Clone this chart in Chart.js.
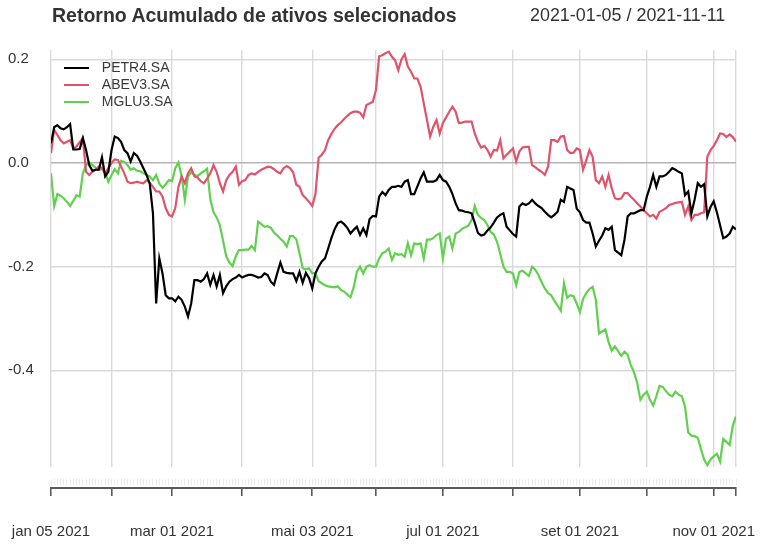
<!DOCTYPE html>
<html>
<head>
<meta charset="utf-8">
<script src="https://cdn.jsdelivr.net/npm/chart.js@4/dist/chart.umd.min.js"></script>
<style>
  html, body { margin: 0; padding: 0; background: #ffffff; }
  #wrap { position: relative; width: 768px; height: 554px; overflow: hidden; }
  #title { position: absolute; left: 52px; top: 6px; font: bold 19.5px "Liberation Sans", Arial, sans-serif; line-height: 19.5px; color: #333333; white-space: nowrap; }
  #range { position: absolute; left: 530px; top: 7px; font: 17.9px "Liberation Sans", Arial, sans-serif; line-height: 17.9px; color: #333333; white-space: nowrap; }
  canvas { position: absolute; left: 0; top: 0; }
</style>
</head>
<body>
<div id="wrap">
  <canvas id="c" width="768" height="554"></canvas>
  <div id="title">Retorno Acumulado de ativos selecionados</div>
  <div id="range">2021-01-05 / 2021-11-11</div>
</div>
<script>
// ---- data (trading-day index 0 = 2021-01-05 ... 215 = 2021-11-11) ----
const seriesNames = ['PETR4.SA', 'ABEV3.SA', 'MGLU3.SA'];

const petr4 = [
  0.038, 0.069, 0.073, 0.067, 0.065, 0.069, 0.075, 0.026, 0.026, 0.027,
  0.048, 0.025, -0.004, -0.015, -0.013, -0.013, 0.011, -0.026, -0.017, 0.025,
  0.051, 0.048, 0.041, 0.025, 0.019, 0.003, 0.019, 0.014, 0.003, -0.010,
  -0.023, -0.040, -0.097, -0.271, -0.184, -0.213, -0.255, -0.261, -0.261, -0.267,
  -0.258, -0.264, -0.277, -0.296, -0.271, -0.226, -0.226, -0.229, -0.224, -0.213,
  -0.235, -0.216, -0.238, -0.216, -0.251, -0.238, -0.229, -0.224, -0.221, -0.216,
  -0.221, -0.218, -0.216, -0.216, -0.218, -0.221, -0.220, -0.213, -0.216, -0.229,
  -0.235, -0.213, -0.192, -0.210, -0.212, -0.213, -0.213, -0.228, -0.210, -0.231,
  -0.212, -0.222, -0.242, -0.213, -0.200, -0.190, -0.184, -0.165, -0.145, -0.128,
  -0.116, -0.113, -0.118, -0.125, -0.136, -0.129, -0.123, -0.139, -0.126, -0.139,
  -0.108, -0.102, -0.103, -0.065, -0.056, -0.062, -0.052, -0.046, -0.046, -0.044,
  -0.046, -0.036, -0.033, -0.060, -0.060, -0.045, -0.030, -0.018, -0.036, -0.036,
  -0.036, -0.033, -0.023, -0.033, -0.036, -0.046, -0.060, -0.078, -0.091, -0.092,
  -0.094, -0.095, -0.097, -0.115, -0.135, -0.140, -0.138, -0.130, -0.124, -0.115,
  -0.105, -0.100, -0.097, -0.123, -0.130, -0.137, -0.142, -0.084, -0.078, -0.081,
  -0.078, -0.071, -0.078, -0.083, -0.087, -0.094, -0.100, -0.105, -0.100, -0.094,
  -0.071, -0.075, -0.046, -0.049, -0.052, -0.088, -0.095, -0.110, -0.115, -0.115,
  -0.136, -0.161, -0.150, -0.140, -0.126, -0.129, -0.123, -0.168, -0.173, -0.178,
  -0.148, -0.103, -0.097, -0.097, -0.094, -0.091, -0.091, -0.065, -0.046, -0.023,
  -0.046, -0.026, -0.026, -0.023, -0.017, -0.010, -0.013, -0.017, -0.020, -0.062,
  -0.055, -0.097, -0.071, -0.039, -0.046, -0.041, -0.103, -0.085, -0.074, -0.095,
  -0.120, -0.145, -0.142, -0.136, -0.123, -0.128
];

const abev3 = [
  0.019, 0.064, 0.054, 0.044, 0.038, 0.041, 0.044, 0.028, 0.032, 0.040,
  0.048, -0.017, -0.023, -0.017, -0.013, -0.007, -0.010, -0.020, -0.010, 0.000,
  0.007, 0.006, -0.007, -0.020, -0.036, -0.039, -0.038, -0.036, -0.038, -0.039,
  -0.033, -0.038, -0.046, -0.055, -0.055, -0.065, -0.087, -0.100, -0.103, -0.087,
  -0.046, -0.026, -0.039, -0.020, -0.010, -0.026, -0.028, -0.035, -0.039, -0.030,
  -0.020, -0.004, -0.017, -0.039, -0.055, -0.033, -0.023, -0.017, -0.007, -0.042,
  -0.035, -0.033, -0.023, -0.020, -0.022, -0.017, -0.013, -0.010, -0.007, -0.008,
  -0.012, -0.017, -0.020, -0.010, -0.006, -0.010, -0.018, -0.042, -0.046, -0.062,
  -0.068, -0.075, -0.083, -0.060, 0.010, 0.016, 0.025, 0.044, 0.056, 0.066,
  0.073, 0.078, 0.085, 0.091, 0.096, 0.099, 0.099, 0.097, 0.088, 0.112,
  0.115, 0.118, 0.141, 0.206, 0.208, 0.212, 0.215, 0.205, 0.198, 0.179,
  0.200, 0.210, 0.186, 0.176, 0.163, 0.163, 0.147, 0.115, 0.083, 0.051,
  0.070, 0.083, 0.057, 0.077, 0.088, 0.099, 0.109, 0.099, 0.077, 0.078,
  0.080, 0.080, 0.080, 0.057, 0.041, 0.030, 0.033, 0.025, 0.012, 0.025,
  0.024, 0.044, 0.009, 0.016, 0.022, 0.028, 0.003, 0.022, 0.030, 0.031,
  0.031, -0.004, -0.008, -0.013, -0.017, -0.023, -0.007, 0.044, 0.044, 0.041,
  0.051, 0.052, 0.025, 0.019, 0.020, 0.028, 0.025, -0.013, 0.005, 0.025,
  0.012, -0.033, -0.039, -0.026, -0.046, -0.023, -0.049, -0.068, -0.070, -0.068,
  -0.058, -0.058, -0.065, -0.071, -0.078, -0.084, -0.091, -0.097, -0.103, -0.100,
  -0.107, -0.094, -0.091, -0.087, -0.081, -0.079, -0.077, -0.076, -0.075, -0.100,
  -0.084, -0.110, -0.100, -0.100, -0.097, -0.095, 0.012, 0.025, 0.033, 0.044,
  0.057, 0.056, 0.050, 0.055, 0.050, 0.041
];

const mglu3 = [
  -0.020, -0.083, -0.060, -0.063, -0.068, -0.075, -0.083, -0.073, -0.062, -0.065,
  -0.020, -0.004, 0.001, -0.004, -0.009, -0.013, -0.012, -0.017, -0.036, -0.023,
  -0.012, -0.020, 0.004, 0.002, -0.004, -0.013, -0.010, -0.015, -0.016, -0.020,
  -0.023, -0.026, -0.033, -0.023, -0.040, -0.048, -0.041, -0.033, -0.035, -0.010,
  0.001, -0.025, -0.071, -0.026, -0.018, -0.023, -0.025, -0.020, -0.016, -0.011,
  -0.070, -0.095, -0.105, -0.120, -0.150, -0.180, -0.192, -0.199, -0.180, -0.168,
  -0.168, -0.167, -0.167, -0.160, -0.168, -0.113, -0.118, -0.123, -0.122, -0.125,
  -0.134, -0.140, -0.146, -0.152, -0.161, -0.141, -0.141, -0.147, -0.174, -0.203,
  -0.205, -0.203, -0.213, -0.212, -0.228, -0.232, -0.236, -0.238, -0.239, -0.240,
  -0.238, -0.245, -0.248, -0.254, -0.259, -0.240, -0.210, -0.200, -0.213, -0.200,
  -0.197, -0.200, -0.200, -0.184, -0.174, -0.171, -0.165, -0.187, -0.174, -0.177,
  -0.176, -0.181, -0.155, -0.178, -0.155, -0.157, -0.155, -0.184, -0.148, -0.148,
  -0.145, -0.139, -0.136, -0.184, -0.146, -0.142, -0.165, -0.136, -0.133, -0.127,
  -0.124, -0.121, -0.110, -0.083, -0.100, -0.106, -0.110, -0.120, -0.133, -0.138,
  -0.152, -0.175, -0.200, -0.210, -0.210, -0.213, -0.236, -0.210, -0.208, -0.213,
  -0.218, -0.200, -0.206, -0.216, -0.230, -0.242, -0.251, -0.255, -0.266, -0.275,
  -0.285, -0.232, -0.260, -0.255, -0.257, -0.271, -0.288, -0.262, -0.251, -0.243,
  -0.239, -0.264, -0.329, -0.325, -0.321, -0.345, -0.362, -0.354, -0.363, -0.372,
  -0.364, -0.370, -0.390, -0.404, -0.425, -0.457, -0.447, -0.441, -0.457, -0.468,
  -0.450, -0.430, -0.432, -0.440, -0.447, -0.450, -0.441, -0.447, -0.450, -0.470,
  -0.520, -0.526, -0.527, -0.530, -0.552, -0.572, -0.583, -0.572, -0.566, -0.561,
  -0.576, -0.532, -0.538, -0.544, -0.507, -0.489
];

// x-axis: positions (trading-day index) of month ticks, and the labelled ones
const monthTickIndex = [0, 19, 38, 60, 82, 102, 123, 145, 166, 187, 208, 215];
const dateLabelIndex = [0, 38, 82, 123, 166, 208];
const dateLabels = ['jan 05 2021', 'mar 01 2021', 'mai 03 2021', 'jul 01 2021', 'set 01 2021', 'nov 01 2021'];
const yTickValues = [-0.4, -0.2, 0.0, 0.2];
const seriesColors = ['#000000', '#DF536B', '#61D04F'];

// ---- chart ----
const lastIndex = petr4.length - 1;
const allSeries = [petr4, abev3, mglu3];
const FONT = '"Liberation Sans", Arial, sans-serif';

const datasets = allSeries.map((arr, k) => ({
  label: seriesNames[k],
  data: arr.map((v, i) => ({ x: i, y: v })),
  borderColor: seriesColors[k],
  backgroundColor: seriesColors[k],
  borderWidth: 2.2,
  pointRadius: 0,
  pointHoverRadius: 0,
  tension: 0,
  fill: false
}));

const legendPlacer = {
  id: 'legendPlacer',
  afterLayout(chart) {
    const lg = chart.legend, ca = chart.chartArea;
    if (!lg || !ca) return;
    lg.left = ca.left + 10;
    lg.right = lg.left + lg.width;
    lg.top = ca.top + 8;
    lg.bottom = ca.bottom;
  }
};

const setTicks = (vals) => (axis) => { axis.ticks = vals.map(v => ({ value: v })); };
const noSidePadding = (axis) => { axis.paddingLeft = 0; axis.paddingRight = 0; };

new Chart(document.getElementById('c'), {
  type: 'line',
  data: { datasets },
  plugins: [legendPlacer],
  options: {
    responsive: false,
    animation: false,
    events: [],
    layout: { padding: { left: 8, right: 32, top: 50, bottom: 0 } },
    plugins: {
      title: { display: false },
      tooltip: { enabled: false },
      legend: {
        display: true,
        position: 'chartArea',
        align: 'start',
        labels: {
          font: { family: FONT, size: 14 },
          color: '#3a3a3a',
          usePointStyle: true,
          pointStyle: 'line',
          pointStyleWidth: 25,
          padding: 3,
          generateLabels(chart) {
            const items = Chart.defaults.plugins.legend.labels.generateLabels(chart);
            items.forEach(it => { it.text = '\u2005\u2006' + it.text; });
            return items;
          }
        }
      }
    },
    scales: {
      x: {
        type: 'linear', position: 'bottom', weight: 0,
        min: 0, max: lastIndex,
        afterBuildTicks: setTicks(monthTickIndex),
        afterFit(axis) { noSidePadding(axis); axis.height = 12; },
        ticks: { display: false },
        grid: { color: '#dadada', lineWidth: 1.4, drawTicks: false },
        border: { display: false }
      },
      xMinor: {
        type: 'linear', axis: 'x', position: 'bottom', weight: 1,
        min: 0, max: lastIndex,
        afterBuildTicks(axis) { axis.ticks = petr4.map((_, i) => ({ value: i })); },
        afterFit(axis) { noSidePadding(axis); axis.height = 9; },
        ticks: { display: false },
        grid: { drawOnChartArea: false, drawTicks: true, tickLength: 6, color: '#ebebeb', lineWidth: 1 },
        border: { display: false }
      },
      xMajor: {
        type: 'linear', axis: 'x', position: 'bottom', weight: 2,
        min: 0, max: lastIndex,
        afterBuildTicks: setTicks(monthTickIndex),
        afterFit(axis) { noSidePadding(axis); axis.height = 66; },
        ticks: {
          display: true, autoSkip: false, maxRotation: 0, minRotation: 0,
          padding: 27,
          font: { family: FONT, size: 15 },
          color: '#333333',
          callback(v) { const k = dateLabelIndex.indexOf(v); return k >= 0 ? dateLabels[k] : ''; }
        },
        grid: { drawOnChartArea: false, drawTicks: true, tickLength: 8, color: '#5a5a5a', lineWidth: 1.6 },
        border: { display: true, color: '#5a5a5a', width: 2 }
      },
      y: {
        type: 'linear', position: 'left',
        min: -0.5865, max: 0.218,
        afterBuildTicks: setTicks(yTickValues),
        afterFit(axis) { axis.width = 43; axis.paddingTop = 0; axis.paddingBottom = 0; },
        ticks: {
          font: { family: FONT, size: 15 },
          color: '#333333',
          crossAlign: 'far',
          padding: 0,
          callback(v) { return Number(v).toFixed(1); }
        },
        grid: {
          drawTicks: false,
          lineWidth: 1.4,
          color(ctx) { return ctx.tick && ctx.tick.value === 0 ? '#b4b4b4' : '#dadada'; }
        },
        border: { display: false }
      }
    }
  }
});
</script>
</body>
</html>
